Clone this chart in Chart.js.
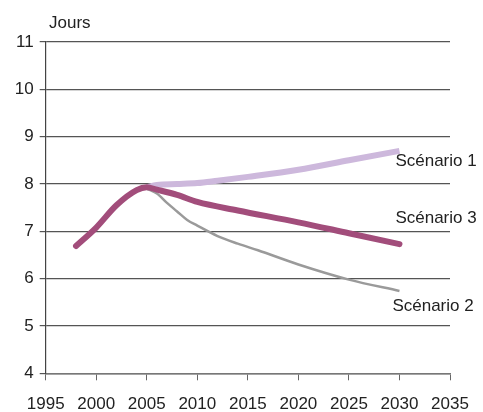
<!DOCTYPE html>
<html lang="fr">
<head>
    <meta charset="UTF-8">
    <title>Jours - scénarios</title>
    <script src="https://cdn.jsdelivr.net/npm/chart.js"></script>
    <style>
        body {
            margin: 0;
            background: #fff;
        }
        #wrap {
            position: relative;
            width: 483px;
            height: 412px;
        }
    </style>
</head>
<body>
    <div id="wrap"><canvas id="chart" width="483" height="412"></canvas></div>

    <script>
        // Scénario 3 (trait épais mauve)
        const years3 = [1998, 2000, 2002, 2004, 2005, 2006, 2008, 2010, 2014, 2020, 2025, 2030];
        const scen3 = [6.69, 7.08, 7.55, 7.87, 7.93, 7.88, 7.77, 7.62, 7.44, 7.19, 6.96, 6.73];

        // Scénario 1 (lilas)
        const years1 = [2005, 2006, 2008, 2010, 2012, 2015, 2020, 2025, 2030];
        const scen1 = [7.93, 7.98, 8.0, 8.02, 8.07, 8.15, 8.3, 8.5, 8.7];

        // Scénario 2 (gris)
        const years2 = [2005, 2006, 2007, 2008, 2009, 2010, 2012, 2014, 2016, 2020, 2025, 2030];
        const scen2 = [7.9, 7.8, 7.6, 7.42, 7.24, 7.12, 6.9, 6.74, 6.6, 6.3, 5.98, 5.74];

        const yTicks = [4, 5, 6, 7, 8, 9, 10, 11];
        const xTicks = [1995, 2000, 2005, 2010, 2015, 2020, 2025, 2030, 2035];

        const FONT = '"Liberation Sans", Arial, sans-serif';
        const SIZE = 17;

        function toPoints(xs, ys) {
            return xs.map((x, i) => ({ x: x, y: ys[i] }));
        }

        // texte "Jours" et noms des scénarios
        const annotations = {
            id: 'annotations',
            afterDraw(chart, args, opts) {
                const c = chart.ctx;
                const xs = chart.scales.x, ys = chart.scales.y;
                c.save();
                c.font = SIZE + 'px ' + FONT;
                c.fillStyle = '#222';
                c.textBaseline = 'middle';
                c.textAlign = 'left';
                c.fillText(opts.unit, 49, 23);
                opts.labels.forEach(l => {
                    c.fillText(l.text, xs.getPixelForValue(l.x), ys.getPixelForValue(l.y));
                });
                c.restore();
            }
        };

        new Chart(document.getElementById('chart'), {
            type: 'line',
            data: {
                datasets: [
                    {
                        label: 'Scénario 3',
                        data: toPoints(years3, scen3),
                        borderColor: '#a24d7b',
                        borderWidth: 6,
                        borderCapStyle: 'round',
                        cubicInterpolationMode: 'monotone'
                    },
                    {
                        label: 'Scénario 2',
                        data: toPoints(years2, scen2),
                        borderColor: '#9a9a9a',
                        borderWidth: 2.5,
                        cubicInterpolationMode: 'monotone'
                    },
                    {
                        label: 'Scénario 1',
                        data: toPoints(years1, scen1),
                        borderColor: '#cdb8dc',
                        borderWidth: 6,
                        cubicInterpolationMode: 'monotone'
                    }
                ]
            },
            options: {
                responsive: false,
                animation: false,
                events: [],
                elements: { point: { radius: 0 } },
                layout: { padding: { top: 42, right: 33, left: 0, bottom: 0 } },
                plugins: {
                    legend: { display: false },
                    tooltip: { enabled: false },
                    annotations: {
                        unit: 'Jours',
                        labels: [
                            { text: 'Scénario 1', x: 2029.6, y: 8.47 },
                            { text: 'Scénario 3', x: 2029.6, y: 7.27 },
                            { text: 'Scénario 2', x: 2029.3, y: 5.41 }
                        ]
                    }
                },
                scales: {
                    x: {
                        type: 'linear',
                        min: xTicks[0],
                        max: xTicks[xTicks.length - 1],
                        afterBuildTicks: axis => { axis.ticks = xTicks.map(v => ({ value: v })); },
                        afterFit: axis => { axis.height = 38.7; },
                        grid: { drawOnChartArea: false, drawTicks: true, tickLength: 7, color: '#666' },
                        border: { color: '#777', width: 1.5 },
                        ticks: {
                            color: '#222',
                            padding: 14,
                            maxRotation: 0,
                            autoSkip: false,
                            font: { family: FONT, size: SIZE },
                            callback: v => String(v)
                        }
                    },
                    y: {
                        min: yTicks[0],
                        max: yTicks[yTicks.length - 1],
                        afterBuildTicks: axis => { axis.ticks = yTicks.map(v => ({ value: v })); },
                        afterFit: axis => { axis.width = 45.7; },
                        grid: { color: '#555', lineWidth: 1.2, tickLength: 6 },
                        border: { color: '#444', width: 1.2 },
                        ticks: {
                            color: '#222',
                            padding: 6,
                            font: { family: FONT, size: SIZE }
                        }
                    }
                }
            },
            plugins: [annotations]
        });
    </script>
</body>
</html>
